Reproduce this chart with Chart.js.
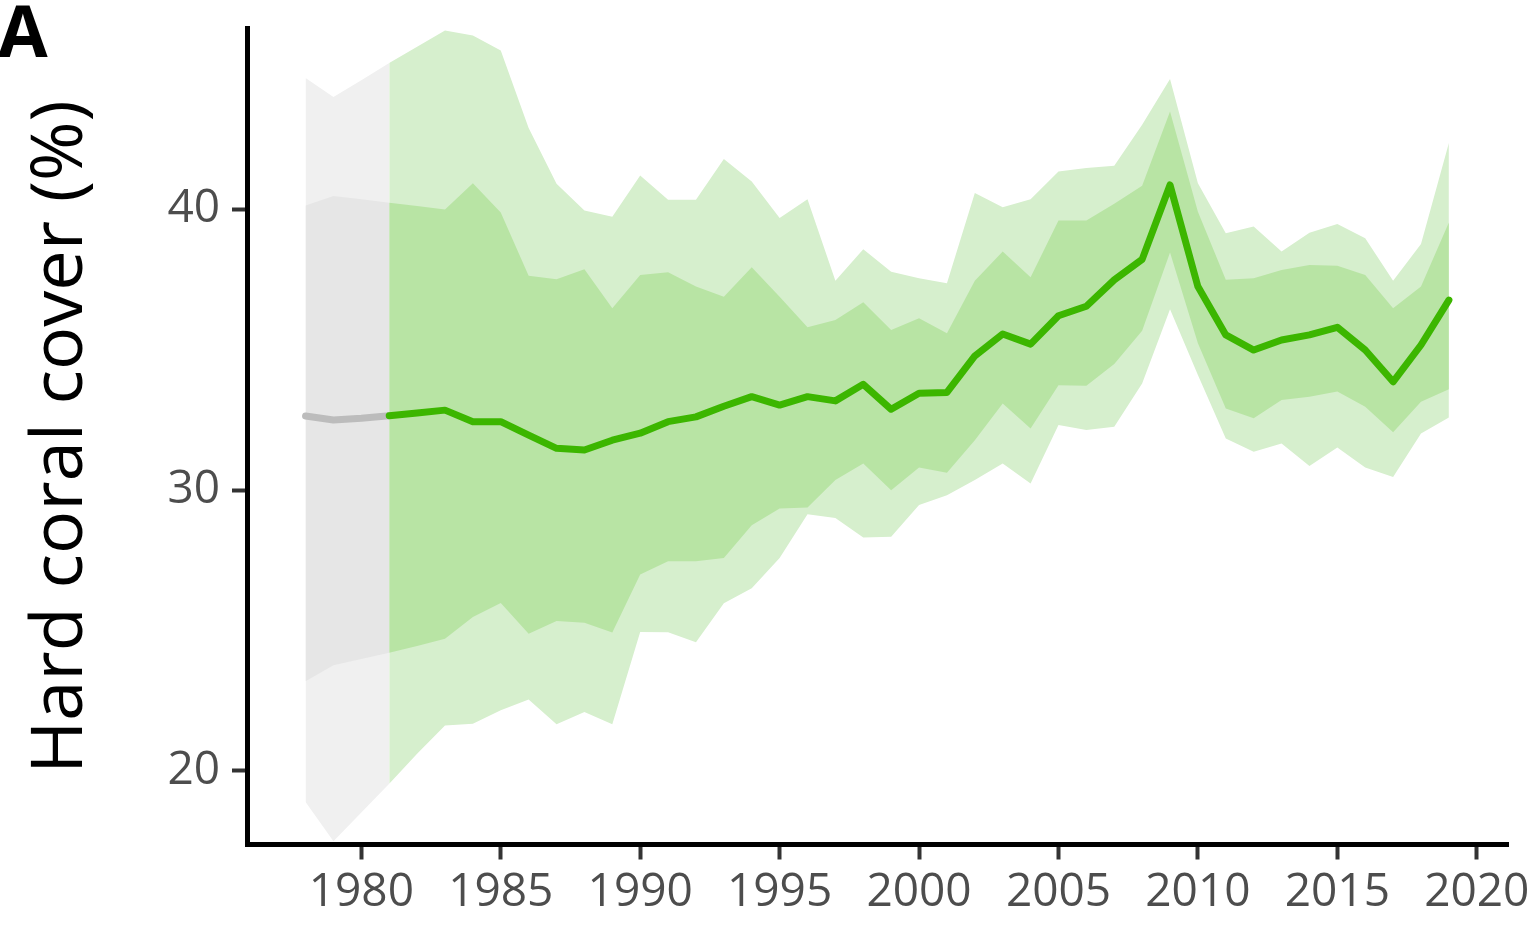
<!DOCTYPE html>
<html><head><meta charset="utf-8">
<script src="https://cdn.jsdelivr.net/npm/chart.js@4.4.1/dist/chart.umd.min.js"></script>
<style>html,body{margin:0;padding:0;background:#fff}#wrap{position:relative;width:1536px;height:949px}</style>
</head><body><div id="wrap"><canvas id="c"></canvas></div>
<script>
const years = [1978,1979,1980,1981,1982,1983,1984,1985,1986,1987,1988,1989,1990,1991,1992,1993,1994,1995,1996,1997,1998,1999,2000,2001,2002,2003,2004,2005,2006,2007,2008,2009,2010,2011,2012,2013,2014,2015,2016,2017,2018,2019];
const meanCover = [32.64,32.50,32.56,32.65,32.75,32.85,32.44,32.44,31.96,31.49,31.43,31.78,32.03,32.44,32.61,32.99,33.33,33.03,33.33,33.18,33.77,32.88,33.45,33.48,34.78,35.56,35.20,36.21,36.55,37.49,38.22,40.87,37.25,35.53,34.99,35.35,35.53,35.80,34.99,33.86,35.17,36.77];
const innerUpper = [40.14,40.48,40.36,40.24,40.12,40.00,40.93,39.89,37.64,37.51,37.87,36.48,37.66,37.76,37.25,36.89,37.94,36.89,35.80,36.06,36.69,35.70,36.12,35.59,37.46,38.50,37.58,39.60,39.60,40.20,40.84,43.49,39.92,37.49,37.55,37.84,38.02,37.99,37.66,36.48,37.25,39.53];
const innerLower = [23.19,23.76,23.99,24.21,24.45,24.71,25.48,25.98,24.89,25.34,25.28,24.93,27.00,27.47,27.47,27.58,28.75,29.35,29.38,30.36,30.95,30.00,30.81,30.62,31.78,33.09,32.20,33.74,33.72,34.49,35.68,38.46,35.23,32.91,32.56,33.21,33.33,33.51,32.97,32.06,33.15,33.59];
const outerUpper = [44.68,44.00,44.60,45.21,45.79,46.37,46.19,45.66,42.90,40.91,39.96,39.74,41.21,40.34,40.34,41.79,40.99,39.69,40.36,37.46,38.58,37.78,37.55,37.37,40.58,40.08,40.36,41.35,41.47,41.55,43.01,44.64,40.93,39.15,39.39,38.50,39.17,39.48,38.97,37.46,38.77,42.36];
const outerLower = [18.89,17.50,18.52,19.54,20.61,21.62,21.68,22.16,22.54,21.66,22.10,21.66,24.95,24.94,24.58,25.97,26.51,27.58,29.14,29.01,28.31,28.34,29.47,29.82,30.36,30.95,30.24,32.32,32.14,32.26,33.80,36.44,34.10,31.84,31.37,31.66,30.86,31.52,30.81,30.47,32.02,32.59];
const splitYear = 1981;
const xTicks = [1980,1985,1990,1995,2000,2005,2010,2015,2020];
const yTicks = [20,30,40];
const yTitle = 'Hard coral cover (%)';
const panelLabel = 'A';

const firstYear = years[0], lastYear = years[years.length-1];
function pts(arr, from, to){
  return years.map((yr,i)=>({x:yr,y:arr[i]})).filter(p=>p.x>=from && p.x<=to);
}
const band = (arr, from, to, color, fill) => ({
  data: pts(arr, from, to), borderWidth: 0, pointRadius: 0,
  backgroundColor: color, fill: fill, tension: 0
});
const C = {
  greenLine:'rgb(60,182,0)', greenInner:'rgb(184,228,164)', greenOuter:'rgb(214,239,205)',
  greyLine:'rgb(188,188,188)', greyInner:'rgb(230,230,230)', greyOuter:'rgb(240,240,240)'
};
const datasets = [
  {data: pts(meanCover, splitYear, lastYear), borderColor:C.greenLine, borderWidth:7, pointRadius:0, fill:false, borderCapStyle:'round', borderJoinStyle:'round'},
  {data: pts(meanCover, firstYear, splitYear), borderColor:C.greyLine, borderWidth:7, pointRadius:0, fill:false, borderCapStyle:'round', borderJoinStyle:'round'},
  band(innerUpper, splitYear, lastYear, C.greenInner, '+1'),
  band(innerLower, splitYear, lastYear, C.greenInner, false),
  band(innerUpper, firstYear, splitYear, C.greyInner, '+1'),
  band(innerLower, firstYear, splitYear, C.greyInner, false),
  band(outerUpper, splitYear, lastYear, C.greenOuter, '+1'),
  band(outerLower, splitYear, lastYear, C.greenOuter, false),
  band(outerUpper, firstYear, splitYear, C.greyOuter, '+1'),
  band(outerLower, firstYear, splitYear, C.greyOuter, false)
];

const textPlugin = {
  id:'texts',
  afterDraw(chart){
    const ctx = chart.ctx;
    ctx.save();
    ctx.fillStyle = '#000';
    ctx.font = '72px "Open Sans"';
    ctx.translate(82, 437);
    ctx.rotate(-Math.PI/2);
    ctx.textAlign = 'center';
    ctx.textBaseline = 'alphabetic';
    ctx.fillText(yTitle, 0, 0);
    ctx.restore();
    ctx.save();
    ctx.fillStyle = '#000';
    ctx.font = 'bold 72px "Open Sans"';
    ctx.textAlign = 'left';
    ctx.textBaseline = 'alphabetic';
    ctx.fillText(panelLabel, -2, 57);
    ctx.restore();
  }
};

const tickFont = {family:'"Open Sans"', size:46};
new Chart(document.getElementById('c'), {
  type:'line',
  data:{datasets},
  plugins:[textPlugin],
  options:{
    animation:false, responsive:true, maintainAspectRatio:false,
    layout:{padding:{top:28,right:28,left:0,bottom:0}},
    plugins:{legend:{display:false}, tooltip:{enabled:false}},
    scales:{
      x:{type:'linear', min:1975.9, max:2021.12,
        afterBuildTicks:s=>{s.ticks = xTicks.map(v=>({value:v}));},
        ticks:{font:tickFont, color:'#4d4d4d', padding:6, maxRotation:0, autoSkip:false, callback:v=>String(v)},
        grid:{drawOnChartArea:false, drawTicks:true, tickLength:15, tickWidth:4, tickColor:'#333'},
        border:{display:true, color:'#000', width:5},
        afterFit:s=>{s.height=104.5; s.paddingLeft=0; s.paddingRight=0;}
      },
      y:{type:'linear', min:17.38, max:46.46,
        afterBuildTicks:s=>{s.ticks = yTicks.map(v=>({value:v}));},
        ticks:{font:tickFont, color:'#4d4d4d', padding:12, callback:v=>String(v)},
        grid:{drawOnChartArea:false, drawTicks:true, tickLength:15, tickWidth:4, tickColor:'#333'},
        border:{display:true, color:'#000', width:5},
        afterFit:s=>{s.width=247; s.paddingTop=0; s.paddingBottom=0;}
      }
    }
  }
});
</script></body></html>
